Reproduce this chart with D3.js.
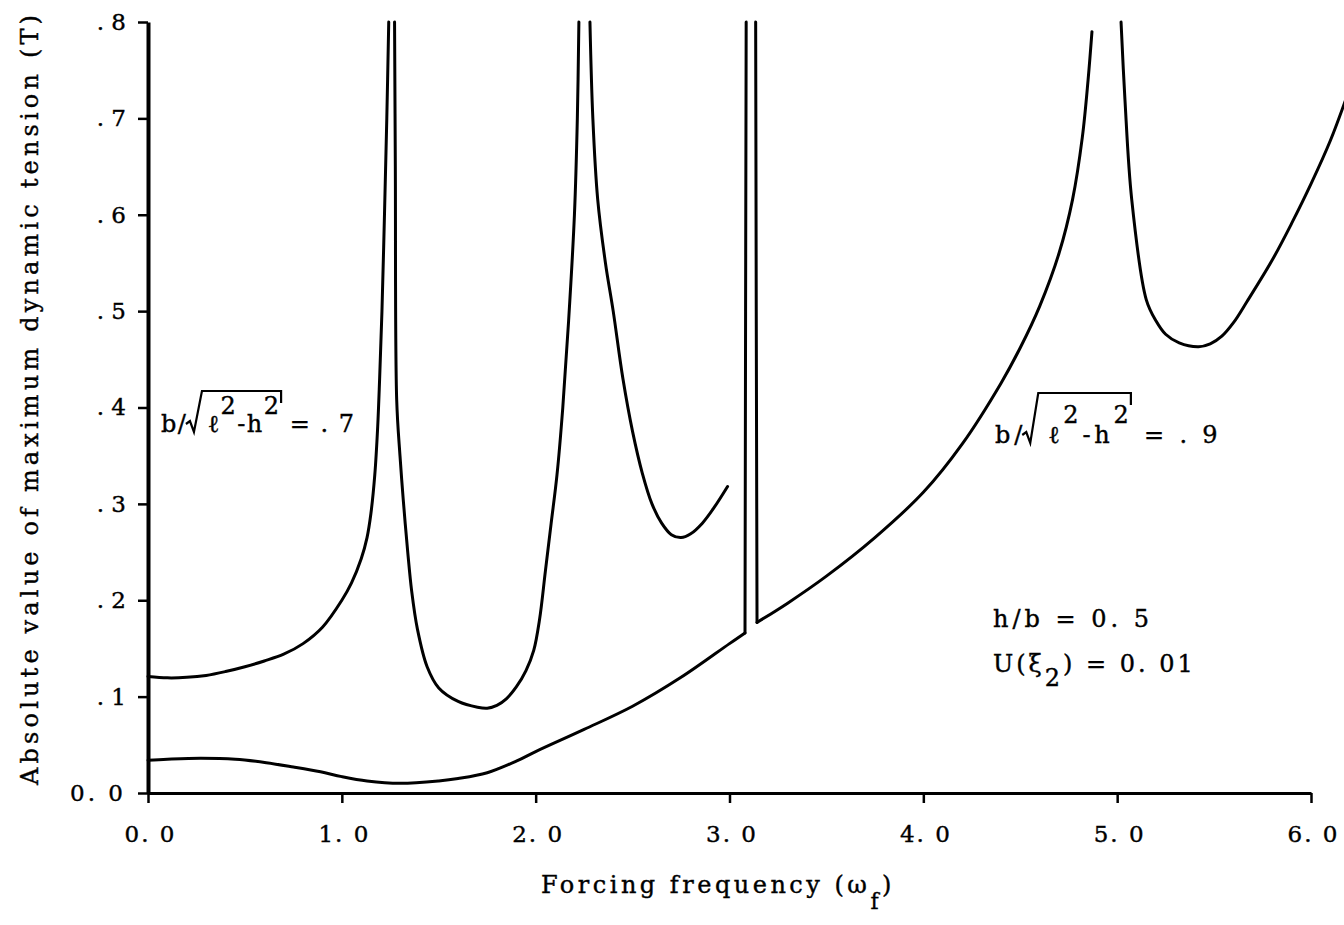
<!DOCTYPE html>
<html>
<head>
<meta charset="utf-8">
<script src="https://cdn.jsdelivr.net/npm/d3@7"></script>
<style>
  body { margin: 0; background: #fff; }
  svg { display: block; background: #fff; }
  .axis path, .axis line { stroke: #000; }
  .axis text { font-family: "DejaVu Serif", serif; font-size: 23px; fill: #000; stroke: #000; stroke-width: 0.4; }
  .curve { fill: none; stroke: #000; stroke-width: 3; stroke-linejoin: round; stroke-linecap: round; }
  .note { font-family: "DejaVu Serif", serif; font-size: 24px; fill: #000; stroke: #000; stroke-width: 0.4; }
</style>
</head>
<body>
<script>
const width = 1344;
const height = 925;
const margin = { top: 22, right: 33, bottom: 132, left: 148 };

// axis ticks
const freqTicks = [0, 1, 2, 3, 4, 5, 6];
const freqTickLabels = ["0. 0", "1. 0", "2. 0", "3. 0", "4. 0", "5. 0", "6. 0"];
const tensionTicks = [0, 0.1, 0.2, 0.3, 0.4, 0.5, 0.6, 0.7, 0.8];
const tensionTickLabels = ["0. 0", ". 1", ". 2", ". 3", ". 4", ". 5", ". 6", ". 7", ". 8"];

// b/sqrt(l^2-h^2) = .7  -- [forcing frequency, tension], split where the curve leaves the top
const ratio7Left = [[0, .121], [0.1, .1195], [0.2, .12], [0.3, .122], [0.4, .126], [0.5, .131], [0.6, .137],
  [0.7, .144], [0.8, .155], [0.9, .172], [1.0, .2], [1.05, .218], [1.1, .243], [1.13, .265], [1.15, .29],
  [1.17, .33], [1.185, .38], [1.195, .43], [1.207, .50], [1.22, .60], [1.232, .70], [1.242, .80]];
const ratio7Middle = [[1.272, .8], [1.276, .65], [1.283, .408], [1.3, .35], [1.317, .304], [1.34, .25],
  [1.36, .21], [1.39, .17], [1.44, .131], [1.5, .109], [1.6, .095], [1.7, .089], [1.75, .088], [1.8, .091],
  [1.85, .098], [1.9, .11], [1.95, .127], [1.99, .148], [2.02, .18], [2.05, .23], [2.08, .28], [2.11, .33],
  [2.14, .40], [2.17, .49], [2.2, .6], [2.215, .7], [2.223, .8]];
const ratio7Right = [[2.28, .8], [2.295, .7], [2.32, .616], [2.36, .55], [2.40, .5], [2.45, .43], [2.5, .375],
  [2.55, .332], [2.6, .3], [2.65, .28], [2.7, .268], [2.75, .265], [2.8, .269], [2.86, .28], [2.92, .296],
  [2.99, .318]];

// b/sqrt(l^2-h^2) = .9
const ratio9Left = [[0, .034], [0.1, .035], [0.27, .036], [0.45, .035], [0.61, .0315], [0.75, .027],
  [0.89, .022], [1.0, .017], [1.13, .0125], [1.3, .010], [1.5, .0125], [1.6, .015], [1.75, .021], [1.9, .033],
  [2.0, .043], [2.25, .066], [2.5, .09], [2.75, .12], [3.0, .155], [3.08, .166]];
const ratio9Spike = [[3.08, .166], [3.083, .5], [3.086, .8]];
const ratio9SpikeBack = [[3.135, .8], [3.138, .5], [3.142, .177]];
const ratio9Middle = [[3.142, .177], [3.3, .197], [3.5, .225], [3.75, .265], [4.0, .312], [4.2, .362],
  [4.4, .425], [4.5, .462], [4.6, .505], [4.7, .56], [4.77, .616], [4.82, .68], [4.85, .74], [4.87, .79]];
const ratio9Right = [[5.02, .8], [5.04, .72], [5.075, .616], [5.15, .512], [5.2, .49], [5.25, .476],
  [5.32, .467], [5.42, .463], [5.48, .466], [5.54, .474], [5.6, .488], [5.67, .51], [5.8, .553], [5.9, .591],
  [6.0, .632], [6.1, .677], [6.18, .72]];

const svg = d3.select('body').append('svg')
  .attr('width', width)
  .attr('height', height);

const x = d3.scaleLinear().domain([0, 6]).range([margin.left, width - margin.right]);
const y = d3.scaleLinear().domain([0, 0.8]).range([height - margin.bottom, margin.top]);

const xAxis = svg.append('g')
  .attr('class', 'axis')
  .attr('transform', `translate(0,${y(0)})`)
  .call(d3.axisBottom(x).tickValues(freqTicks).tickSize(10).tickSizeOuter(0).tickPadding(23)
    .tickFormat((d, i) => freqTickLabels[i]));
xAxis.select('.domain').attr('stroke-width', 3);
xAxis.selectAll('.tick line').attr('stroke-width', 2.5);
xAxis.selectAll('.tick text').attr('letter-spacing', 2).attr('dx', 2);

const yAxis = svg.append('g')
  .attr('class', 'axis')
  .attr('transform', `translate(${x(0)},0)`)
  .call(d3.axisLeft(y).tickValues(tensionTicks).tickSize(10).tickSizeOuter(0).tickPadding(12)
    .tickFormat((d, i) => tensionTickLabels[i]));
yAxis.select('.domain').attr('stroke-width', 4);
yAxis.selectAll('.tick line').attr('stroke-width', 2.5);
yAxis.selectAll('.tick text').filter(d => d === 0).attr('letter-spacing', 3);

const smooth = d3.line()
  .x(d => x(d[0]))
  .y(d => y(d[1]))
  .curve(d3.curveCatmullRom.alpha(0.5));
const straight = d3.line()
  .x(d => x(d[0]))
  .y(d => y(d[1]));

[ratio7Left, ratio7Middle, ratio7Right, ratio9Left, ratio9Middle, ratio9Right].forEach(seg => {
  svg.append('path').attr('class', 'curve').attr('d', smooth(seg));
});
[ratio9Spike, ratio9SpikeBack].forEach(seg => {
  svg.append('path').attr('class', 'curve').attr('d', straight(seg));
});

// axis titles
svg.append('text')
  .attr('class', 'note')
  .attr('font-size', 27)
  .attr('transform', 'translate(38,400) rotate(-90)')
  .attr('text-anchor', 'middle')
  .attr('textLength', 770)
  .attr('lengthAdjust', 'spacing')
  .text('Absolute value of maximum dynamic tension (T)');

const xTitle = svg.append('text')
  .attr('class', 'note')
  .attr('font-size', 26)
  .attr('x', 541).attr('y', 893)
  .attr('letter-spacing', 3.5);
xTitle.append('tspan').text('Forcing frequency (ω');
xTitle.append('tspan').text('f').attr('dy', 16).attr('font-size', 22);
xTitle.append('tspan').text(')').attr('dy', -16);

// b/sqrt(l^2 - h^2) labels, radical drawn as a path around the text
const radicalLabel = (px, py, value, spacing, rise, supRise, gap) => {
  const t = svg.append('text').attr('class', 'note').attr('x', px).attr('y', py).attr('letter-spacing', spacing);
  t.append('tspan').text('b/');
  t.append('tspan').text('ℓ').attr('dx', gap);
  t.append('tspan').text('2').attr('dy', -supRise);
  t.append('tspan').text('-h').attr('dy', supRise);
  t.append('tspan').text('2').attr('dy', -supRise);
  t.append('tspan').text(' = . ' + value).attr('dy', supRise);
  const node = t.node();
  const slash = node.getExtentOfChar(1);
  const lastSup = node.getExtentOfChar(6);
  const r0 = slash.x + slash.width - spacing;
  const r1 = lastSup.x + lastSup.width - spacing + 2;
  svg.append('path')
    .attr('fill', 'none').attr('stroke', '#000').attr('stroke-width', 2.2)
    .attr('d', `M${r0},${py - 8} L${r0 + 4},${py - 11} L${r0 + 8},${py} L${r0 + 16},${py - rise} H${r1} V${py - rise + 12}`);
};
radicalLabel(161, 432, '7', 1.5, 41, 18, 20);
radicalLabel(995, 443, '9', 3.8, 50, 20, 22);

svg.append('text').attr('class', 'note').attr('x', 993).attr('y', 627).attr('letter-spacing', 4)
  .text('h/b = 0. 5');

const uLabel = svg.append('text').attr('class', 'note').attr('x', 993).attr('y', 672).attr('letter-spacing', 3);
uLabel.append('tspan').text('U(ξ');
uLabel.append('tspan').text('2').attr('dy', 14);
uLabel.append('tspan').text(') = 0. 01').attr('dy', -14);
</script>
</body>
</html>
